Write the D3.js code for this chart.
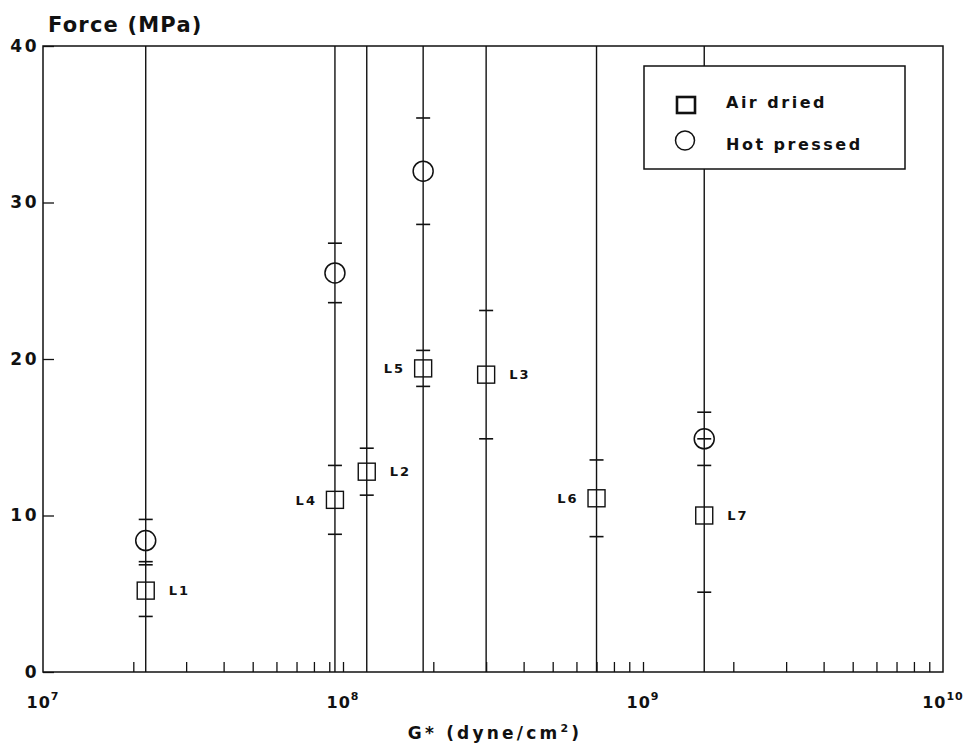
<!DOCTYPE html>
<html>
<head>
<meta charset="utf-8">
<script src="https://cdn.jsdelivr.net/npm/d3@7"></script>
<style>
  body { margin: 0; background: #fff; }
  text { font-family: "DejaVu Sans", sans-serif; font-weight: bold; fill: #111; }
</style>
</head>
<body>
<script>
// samples, ordered by modulus
var samples = ["L1", "L4", "L2", "L5", "L3", "L6", "L7"];
var modulus = [2.2e7, 9.4e7, 1.2e8, 1.85e8, 3.0e8, 7.0e8, 1.6e9];   // G* (dyne/cm2)
var airDried = [5.2, 11.0, 12.8, 19.4, 19.0, 11.1, 10.0];          // MPa
var airDriedErr = [1.65, 2.2, 1.5, 1.15, 4.1, 2.45, 4.9];
var hotPressed = [8.4, 25.5, null, 32.0, null, null, 14.9];
var hotPressedErr = [1.35, 1.9, null, 3.4, null, null, 1.7];
var yTicks = [0, 10, 20, 30, 40];
var decades = [7, 8, 9, 10];
var legendLabels = ["Air dried", "Hot pressed"];

var margin = {top: 46, right: 29, bottom: 76, left: 43};
var W = 972, H = 748;
var w = W - margin.left - margin.right;
var h = H - margin.top - margin.bottom;

var svg = d3.select("body").append("svg")
    .attr("width", W)
    .attr("height", H)
  .append("g")
    .attr("transform", "translate(" + margin.left + "," + margin.top + ")");

var x = d3.scaleLog().domain([1e7, 1e10]).range([0, w]);
var y = d3.scaleLinear().domain([0, 40]).range([h, 0]);

// vertical lines through every sample
svg.selectAll(".vline")
    .data(modulus)
    .enter().append("line")
    .attr("class", "vline")
    .attr("x1", function(d){ return x(d); })
    .attr("x2", function(d){ return x(d); })
    .attr("y1", y(0))
    .attr("y2", y(40))
    .style("stroke", "#111")
    .style("stroke-width", 1.4);

// x axis: minor ticks pointing inward
var xAxis = d3.axisBottom(x)
    .tickValues(x.ticks().filter(function(d){ return d > 1e7 && d < 1e10; }))
    .tickSize(-10)
    .tickFormat("");
svg.append("g")
    .attr("transform", "translate(0," + h + ")")
    .call(xAxis)
    .call(function(g){ g.select(".domain").remove(); })
    .selectAll("line").style("stroke", "#111").style("stroke-width", 1.3);

var xl = svg.append("g").selectAll("text")
    .data(decades)
    .enter().append("text")
    .attr("x", function(d){ return x(Math.pow(10, d)); })
    .attr("y", h + 36)
    .attr("text-anchor", "middle")
    .style("font-size", "16px")
    .style("letter-spacing", "1px");
xl.append("tspan").text("10");
xl.append("tspan")
    .attr("dy", -8)
    .style("font-size", "11px")
    .text(function(d){ return d; });

// y axis
var yAxis = d3.axisLeft(y)
    .tickValues(yTicks)
    .tickSize(-11)
    .tickPadding(4)
    .tickFormat(d3.format("d"));
var gy = svg.append("g").call(yAxis);
gy.select(".domain").remove();
gy.selectAll("line").style("stroke", "#111").style("stroke-width", 1.3);
gy.selectAll("text")
    .style("font-size", "17px")
    .style("letter-spacing", "2.5px")
    .style("font-family", "DejaVu Sans")
    .style("font-weight", "bold")
    .attr("fill", "#111");

// frame
svg.append("rect")
    .attr("width", w)
    .attr("height", h)
    .attr("fill", "none")
    .style("stroke", "#111")
    .style("stroke-width", 1.5);

// error bars
var cap = 7;
function errBars(vals, errs, cls) {
    var pts = [];
    vals.forEach(function(v, i){
        if (v === null) return;
        pts.push({x: modulus[i], lo: v - errs[i], hi: v + errs[i]});
    });
    var g = svg.selectAll("." + cls)
        .data(pts)
        .enter().append("g")
        .attr("class", cls);
    ["lo", "hi"].forEach(function(k){
        g.append("line")
            .attr("x1", function(d){ return x(d.x) - cap; })
            .attr("x2", function(d){ return x(d.x) + cap; })
            .attr("y1", function(d){ return y(d[k]); })
            .attr("y2", function(d){ return y(d[k]); })
            .style("stroke", "#111")
            .style("stroke-width", 1.6);
    });
}
errBars(airDried, airDriedErr, "err-air");
errBars(hotPressed, hotPressedErr, "err-hot");

// air dried squares
var sq = 17;
svg.selectAll(".sq")
    .data(airDried)
    .enter().append("rect")
    .attr("class", "sq")
    .attr("x", function(d, i){ return x(modulus[i]) - sq / 2; })
    .attr("y", function(d){ return y(d) - sq / 2; })
    .attr("width", sq)
    .attr("height", sq)
    .attr("fill", "none")
    .style("stroke", "#111")
    .style("stroke-width", 1.4);

// hot pressed circles
svg.selectAll(".circ")
    .data(hotPressed.map(function(d, i){ return {v: d, g: modulus[i]}; })
        .filter(function(d){ return d.v !== null; }))
    .enter().append("circle")
    .attr("class", "circ")
    .attr("cx", function(d){ return x(d.g); })
    .attr("cy", function(d){ return y(d.v); })
    .attr("r", 10)
    .attr("fill", "none")
    .style("stroke", "#111")
    .style("stroke-width", 1.5);

// sample labels
var leftSide = ["L4", "L5", "L6"];
svg.selectAll(".lab")
    .data(samples)
    .enter().append("text")
    .attr("class", "lab")
    .attr("x", function(d, i){
        return leftSide.indexOf(d) >= 0 ? x(modulus[i]) - 18 : x(modulus[i]) + 23;
    })
    .attr("y", function(d, i){ return y(airDried[i]); })
    .attr("dy", "0.36em")
    .attr("text-anchor", function(d){ return leftSide.indexOf(d) >= 0 ? "end" : "start"; })
    .style("font-size", "13px")
    .style("letter-spacing", "2px")
    .text(function(d){ return d; });

// titles
svg.append("text")
    .attr("x", 5)
    .attr("y", -14)
    .style("font-size", "21px")
    .style("letter-spacing", "1.2px")
    .text("Force (MPa)");

var xt = svg.append("text")
    .attr("x", 452)
    .attr("y", h + 67)
    .attr("text-anchor", "middle")
    .style("font-size", "17px")
    .style("letter-spacing", "3.2px");
xt.append("tspan").text("G* (dyne/cm");
xt.append("tspan").attr("dy", -7).style("font-size", "11px").text("2");
xt.append("tspan").attr("dy", 7).text(")");

// legend
var lg = svg.append("g").attr("transform", "translate(" + (644 - margin.left) + "," + (66 - margin.top) + ")");
lg.append("rect")
    .attr("width", 261)
    .attr("height", 103)
    .attr("fill", "#fff")
    .style("stroke", "#111")
    .style("stroke-width", 1.5);
lg.append("rect")
    .attr("x", 33)
    .attr("y", 31)
    .attr("width", 18)
    .attr("height", 16)
    .attr("fill", "none")
    .style("stroke", "#111")
    .style("stroke-width", 2.6);
lg.append("circle")
    .attr("cx", 41)
    .attr("cy", 74.5)
    .attr("r", 9.5)
    .attr("fill", "none")
    .style("stroke", "#111")
    .style("stroke-width", 1.5);
lg.selectAll(".lgt")
    .data(legendLabels)
    .enter().append("text")
    .attr("class", "lgt")
    .attr("x", 82)
    .attr("y", function(d, i){ return 42 + i * 42; })
    .style("font-size", "16px")
    .style("letter-spacing", "2.5px")
    .text(function(d){ return d; });
</script>
</body>
</html>
